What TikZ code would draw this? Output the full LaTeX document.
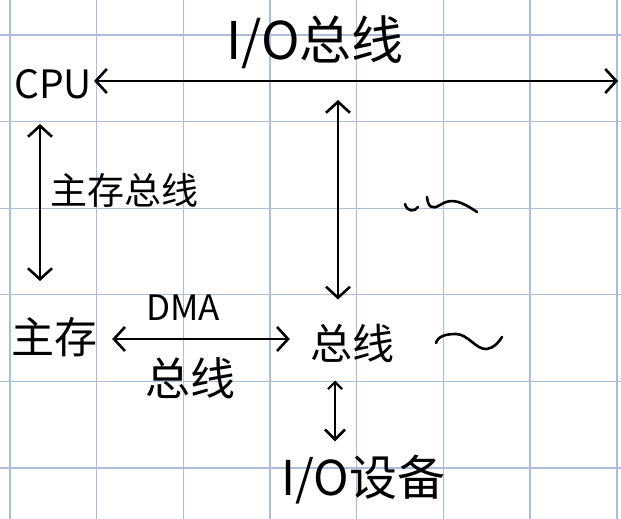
\documentclass[tikz,border=0pt]{standalone}
\usepackage{fontspec}
\setmainfont{Noto Sans CJK SC}
\usetikzlibrary{arrows.meta,calc}
\definecolor{gridc}{RGB}{172,189,218}
\tikzset{
  hand/.style={inner sep=0pt, text=black},
  bus/.style={line width=1.5pt, {Straight Barb[length=11pt,width=24pt,line width=2.6pt]}-{Straight Barb[length=11pt,width=24pt,line width=2.6pt]}},
  smallbus/.style={line width=1.5pt, {Straight Barb[length=7pt,width=14pt,line width=2.2pt]}-{Straight Barb[length=10pt,width=20pt,line width=2.6pt]}},
  squig/.style={line width=2.6pt, line cap=round, line join=round}
}
\begin{document}
\begin{tikzpicture}[x=1pt,y=-1pt]
\useasboundingbox (0,0) rectangle (621,519);
\fill[white] (0,0) rectangle (621,519);
% grid
\foreach \gx in {10,96.7,183.4,270,356.8,443.5,530,617}
  \draw[gridc, line width=1.2pt] (\gx,0) -- (\gx,519);
\foreach \gy in {35,121.6,208.2,294.8,381.4,468}
  \draw[gridc, line width=1.2pt] (0,\gy) -- (621,\gy);
% nodes
\node[hand, font=\fontsize{39}{39}\selectfont] (cpu) at (53,84) {CPU};
\node[hand, font=\fontsize{52}{52}\selectfont] (iolabel) at (315,42) {I/O总线};
\node[hand, font=\fontsize{37}{37}\selectfont] (mblabel) at (124,190) {主存总线};
\node[hand, font=\fontsize{43}{43}\selectfont] (mem) at (55,337) {主存};
\node[hand, font=\fontsize{35}{35}\selectfont] (dma) at (183,308) {DMA};
\node[hand, font=\fontsize{45}{45}\selectfont] (dmabus) at (190,378) {总线};
\node[hand, font=\fontsize{42}{42}\selectfont] (zx) at (352,343) {总线};
\node[hand, font=\fontsize{48}{48}\selectfont] (io) at (363,480) {I/O设备};
\coordinate (busR) at (618,81);
\coordinate (busM) at (338,81);
% connectors
\draw[bus] ($(cpu.east)+(2,-3)$) -- (busR);
\draw[bus] ($(cpu.south)+(-13,25)$) -- ($(mem.north)+(-15,-36)$);
\draw[bus] ($(busM)+(0,19)$) -- ($(zx.north)+(-14,-24)$);
\draw[bus] ($(mem.east)+(14,2)$) -- ($(zx.west)+(-20,-4)$);
\draw[smallbus] ($(zx.south)+(-17,18)$) -- ($(io.north)+(-28,-14)$);
% squiggles
\draw[squig] (405,204) .. controls (407,212) and (415,212) .. (418,207);
\draw[squig] (427,197) .. controls (428,207) and (432,210) .. (440,205) .. controls (452,197) and (462,202) .. (477,212);
\draw[squig] (436,343) .. controls (438,336) and (446,334) .. (456,334) .. controls (468,334) and (476,350) .. (487,349) .. controls (494,348) and (499,342) .. (502,337);
\end{tikzpicture}
\end{document}
